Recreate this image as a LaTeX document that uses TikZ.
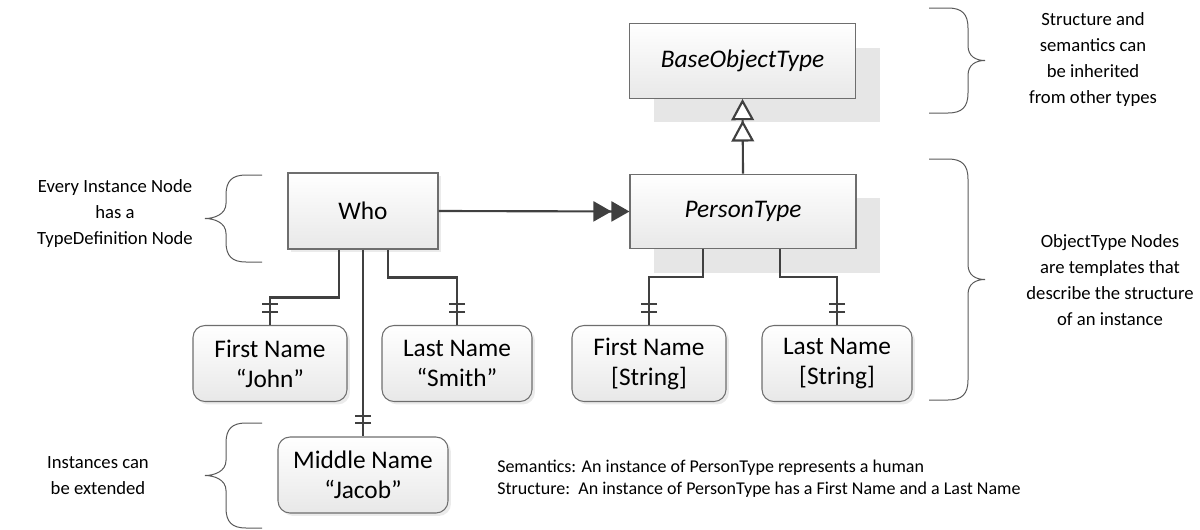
\documentclass[tikz,border=0pt]{standalone}
\usepackage{fontspec}
\setmainfont{Carlito}
\usetikzlibrary{arrows.meta,shadows,calc,decorations.markings}
\definecolor{ln}{HTML}{404040}
\definecolor{bd}{HTML}{6E6E6E}
\definecolor{sh}{HTML}{E6E6E6}
\definecolor{brc}{HTML}{5A5A5A}
% brace: #1 free end x, #2 vertical x, #3 tip x, #4 top y, #5 bottom y, #6 direction (1 = right brace, -1 = left brace)
\newcommand\MyBrace[6]{%
  \draw[bracestyle] (#1,#4) -- (#2-20*#6,#4) .. controls (#2-6*#6,#4) and (#2,#4+6) .. (#2,#4+20)
   -- (#2,{(#4+#5)/2-15}) .. controls (#2,{(#4+#5)/2-4}) and (#3-9*#6,{(#4+#5)/2}) .. (#3,{(#4+#5)/2})
   .. controls (#3-9*#6,{(#4+#5)/2}) and (#2,{(#4+#5)/2+4}) .. (#2,{(#4+#5)/2+15})
   -- (#2,#5-20) .. controls (#2,#5-6) and (#2-6*#6,#5) .. (#2-20*#6,#5) -- (#1,#5);}
\begin{document}
\begin{tikzpicture}[x=0.75pt,y=-0.75pt,
  conn/.style={draw=ln,line width=1.6pt},
  bracestyle/.style={draw=brc,line width=0.75pt},
  lbl/.style={font=\fontsize{19}{22.5}\selectfont,align=center,inner sep=0pt},
  boxfill/.style={draw=bd,line width=0.8pt,top color=white,bottom color=black!9},
  typebox/.style={lbl,boxfill,font=\fontsize{19}{22.5}\selectfont\itshape,
    minimum width=169.5pt,minimum height=56pt,
    drop shadow={shadow xshift=18pt,shadow yshift=-18pt,fill=sh,opacity=1}},
  whobox/.style={lbl,boxfill,minimum width=112.5pt,minimum height=57pt,
    drop shadow={shadow xshift=2.2pt,shadow yshift=-2.2pt,fill=black!8,opacity=1}},
  valbox/.style={lbl,boxfill,rounded corners=9pt,minimum height=57pt,
    drop shadow={shadow xshift=2.2pt,shadow yshift=-2.2pt,fill=black!8,opacity=1}},
  note/.style={font=\fontsize{14}{19.5}\selectfont,align=center,inner sep=0pt},
  ticked/.style={postaction={decorate},decoration={markings,
    mark=at position -10pt with {\draw[ln,line width=1.6pt] (0,-8) -- (0,8);},
    mark=at position -15.5pt with {\draw[ln,line width=1.6pt] (0,-8) -- (0,8);}}}
]
\useasboundingbox (0,0) rectangle (1200,529);

% type nodes
\node[typebox] (base) at (742.5,61) {BaseObjectType};
\node[typebox] (ptype) at (743,211.5) {PersonType};
\node[whobox] (who) at (363,211) {Who};

% value nodes
\node[valbox,minimum width=115.5pt] (fnJ) at (270,363.5) {First Name\\“John”};
\node[valbox,minimum width=112.5pt] (lnS) at (457,363.5) {Last Name\\“Smith”};
\node[valbox,minimum width=115.5pt] (fnS) at (649,363.5) {First Name\\{[String]}};
\node[valbox,minimum width=112.5pt] (lnT) at (837,363.5) {Last Name\\{[String]}};
\node[valbox,minimum width=127.5pt] (mid) at (363,475) {Middle Name\\“Jacob”};

% connectors
\draw[conn,-{Triangle[length=13.5pt,width=15pt]Triangle[length=13.5pt,width=15pt]}] (who.east) -- (ptype.west);
\draw[conn,-{Triangle[open,length=16pt,width=17pt,fill=white]Triangle[open,length=16pt,width=17pt,fill=white]}] (ptype.north) -- (base.south);

\draw[conn,ticked] ($(who.south)+(-24,0)$) -- ++(0,48) -| (fnJ.north);
\draw[conn,ticked] (who.south) -- (mid.north);
\draw[conn,ticked] ($(who.south)+(25,0)$) -- ++(0,28) -| (lnS.north);
\draw[conn,ticked] ($(ptype.south)+(-40,0)$) -- ++(0,28) -| (fnS.north);
\draw[conn,ticked] ($(ptype.south)+(37,0)$) -- ++(0,28) -| (lnT.north);

% braces
\MyBrace{929}{968}{985}{8}{113}{1}
\MyBrace{929}{968}{985}{159}{400}{1}
\MyBrace{262}{226}{205}{175}{262}{-1}
\MyBrace{262}{226}{205}{423}{528}{-1}

% notes
\node[note] (n1) at (1093,60) {Structure and\\semantics can\\be inherited\\from other types};
\node[note] (n2) at (1110,280) {ObjectType Nodes\\are templates that\\describe the structure\\of an instance};
\node[note] (n3) at (115,214) {Every Instance Node\\has a\\TypeDefinition Node};
\node[note] (n4) at (98,476) {Instances can\\be extended};
\node[font=\fontsize{13.5}{16.5}\selectfont,align=left,inner sep=0pt,anchor=west] (n5) at (497,479)
  {Semantics: An instance of PersonType represents a human\\Structure:\ \ An instance of PersonType has a First Name and a Last Name};
\end{tikzpicture}
\end{document}
